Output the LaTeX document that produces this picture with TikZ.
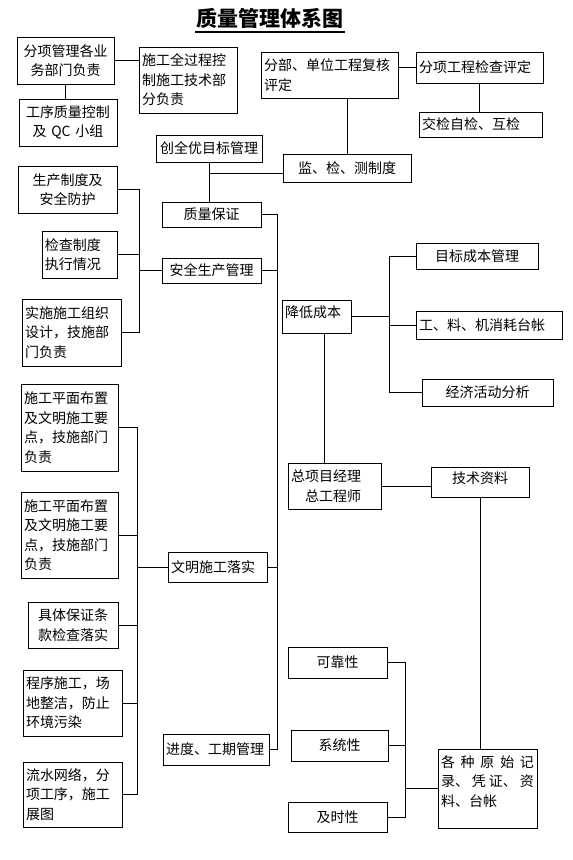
\documentclass[tikz,border=0pt]{standalone}
\usepackage{fontspec}
\setmainfont{Noto Sans CJK SC}
\usetikzlibrary{calc}
\newcommand\boxfont{\fontsize{14pt}{19.5pt}\selectfont}
\newcommand\headfont{\fontsize{21pt}{24pt}\selectfont\bfseries}

\begin{document}
\begin{tikzpicture}[
  x=1pt,y=-1pt,
  blk/.style={draw,line width=1pt,inner xsep=3pt,inner ysep=0pt,font=\boxfont,align=center},
  lft/.style={blk,align=left},
  link/.style={line width=1pt}
]
\useasboundingbox (0,0) rectangle (573,860);
\node[font=\headfont,anchor=base,inner xsep=1pt] (title) at (270,26) {质量管理体系图};
\draw[line width=2pt] ([yshift=-6pt]title.base west) -- ([yshift=-6pt]title.base east);

\node[blk,text width=91pt,minimum height=47pt] (fxgl) at (65.5,60.5) {分项管理各业\\务部门负责};
\node[lft,text width=92pt,minimum height=66pt] (sgqgc) at (188,80) {施工全过程控\\制施工技术部\\分负责};
\node[blk,text width=92pt,minimum height=47pt] (gxzl) at (68,122.5) {工序质量控制\\及 QC 小组};
\node[blk,text width=100pt,minimum height=27pt] (cqy) at (209,148.5) {创全优目标管理};
\node[lft,text width=131pt,minimum height=46pt] (fbdw) at (329.5,75) {分部、单位工程复核\\评定};
\node[lft,text width=121pt,minimum height=31pt] (fxjc) at (479.5,67.5) {分项工程检查评定};
\node[lft,text width=117pt,minimum height=25pt] (jjzj) at (480.5,124.5) {交检自检、互检};
\node[blk,text width=122pt,minimum height=28pt] (jjc) at (347,168) {监、检、测制度};
\node[blk,text width=93pt,minimum height=47pt] (sczd) at (67.5,189.5) {生产制度及\\安全防护};
\node[lft,text width=69pt,minimum height=47pt] (jczd) at (79.5,254.5) {检查制度\\执行情况};
\node[lft,text width=93pt,minimum height=67pt] (sssg) at (71.5,332.5) {实施施工组织\\设计，技施部\\门负责};
\node[blk,text width=93pt,minimum height=25pt] (zlbz) at (211.5,214.5) {质量保证};
\node[blk,text width=93pt,minimum height=25pt] (aqsc) at (211.5,270.5) {安全生产管理};
\node[lft,text width=63pt,text height=17.3pt,text depth=15.7pt] (jdcb) at (316.5,316.5) {降低成本};
\node[blk,text width=116pt,minimum height=26pt] (mbcb) at (477,256) {目标成本管理};
\node[lft,text width=140pt,minimum height=28pt] (glj) at (489,325) {工、料、机消耗台帐};
\node[blk,text width=125pt,minimum height=27pt] (jjhd) at (487.5,392.5) {经济活动分析};
\node[lft,text width=87pt,minimum height=46pt] (zxm) at (334.5,486) {总项目经理\\\hspace*{1em}总工程师};
\node[blk,text width=92pt,text height=16.3pt,text depth=13.7pt] (jszl) at (480,482) {技术资料};
\node[lft,text width=91pt,minimum height=87pt] (sgpm) at (69.5,427.5) {施工平面布置\\及文明施工要\\点，技施部门\\负责};
\node[lft,text width=91pt,minimum height=86pt] (sgpmb) at (69.5,535) {施工平面布置\\及文明施工要\\点，技施部门\\负责};
\node[lft,text width=93pt,minimum height=30pt] (wmsg) at (217.5,567) {文明施工落实};
\node[blk,text width=84pt,minimum height=46pt] (jtbz) at (73,625) {具体保证条\\款检查落实};
\node[lft,text width=93pt,minimum height=66pt] (cxsg) at (72.5,703) {程序施工，场\\地整洁，防止\\环境污染};
\node[lft,text width=93pt,minimum height=65pt] (lswl) at (72.5,794.5) {流水网络，分\\项工序，施工\\展图};
\node[lft,text width=100pt,minimum height=31pt] (jdgq) at (216,749.5) {进度、工期管理};
\node[blk,text width=93pt,minimum height=31pt] (kkx) at (337.5,662.5) {可靠性};
\node[blk,text width=91pt,minimum height=31pt] (xtx) at (339.5,745.5) {系统性};
\node[blk,text width=93pt,minimum height=30pt] (jsx) at (337.5,817) {及时性};
\node[lft,text width=93pt,text height=18.3pt,text depth=60.7pt] (gzys) at (487.5,788.5) {\makebox[93pt][s]{各\hfill 种\hfill 原\hfill 始\hfill 记}\\\makebox[93pt][s]{录、\hfill 凭\hfill 证、\hfill 资}\\料、台帐};

\draw[link] (fxgl.east) -- (fxgl.east -| sgqgc.west);
\draw[link] (fxgl.south) -- (fxgl.south |- gxzl.north);
\draw[link] (cqy.south) -- (cqy.south |- zlbz.north);
\path (cqy.south) -- (zlbz.north) coordinate[pos=.27] (cqyd);
\draw[link] (cqyd) -- (cqyd -| jjc.west);
\draw[link] (jjc.north) -- (jjc.north |- fbdw.south);
\draw[link] (fxjc.west) -- (fxjc.west -| fbdw.east);
\draw[link] (fxjc.south) -- (fxjc.south |- jjzj.north);

\coordinate (abus) at (139,0);
\draw[link] (sczd.east) -- (sczd.east -| abus) -- (sssg.east -| abus) -- (sssg.east);
\draw[link] (jczd.east) -- (jczd.east -| abus);
\draw[link] (aqsc.west) -- (aqsc.west -| abus);

\coordinate (mbus) at (277,0);
\draw[link] (zlbz.east) -- (zlbz.east -| mbus) -- (jdgq.east -| mbus) -- (jdgq.east);
\draw[link] (aqsc.east) -- (aqsc.east -| mbus);
\draw[link] (wmsg.east) -- (wmsg.east -| mbus);

\coordinate (cbus) at (389,0);
\draw[link] (mbcb.west) -- (mbcb.west -| cbus) -- (jjhd.west -| cbus) -- (jjhd.west);
\draw[link] (jdcb.east) -- (jdcb.east -| cbus);
\draw[link] (glj.west) -- (glj.west -| cbus);

\draw[link] ($(jdcb.south west)!.61!(jdcb.south east)$) coordinate (jdcbd) -- (jdcbd |- zxm.north);
\draw[link] (zxm.east) -- (zxm.east -| jszl.west);
\draw[link] (jszl.south) -- (jszl.south |- gzys.north);

\coordinate (xbus) at (405,0);
\draw[link] (kkx.east) -- (kkx.east -| xbus) -- (jsx.east -| xbus) -- (jsx.east);
\draw[link] (xtx.east) -- (xtx.east -| xbus);
\draw[link] (gzys.west) -- (gzys.west -| xbus);

\coordinate (wbus) at (137,0);
\draw[link] (sgpm.east) -- (sgpm.east -| wbus) -- (lswl.east -| wbus) -- (lswl.east);
\draw[link] (sgpmb.east) -- (sgpmb.east -| wbus);
\draw[link] (wmsg.west) -- (wmsg.west -| wbus);
\draw[link] (jtbz.east) -- (jtbz.east -| wbus);
\draw[link] (cxsg.east) -- (cxsg.east -| wbus);
\end{tikzpicture}
\end{document}
